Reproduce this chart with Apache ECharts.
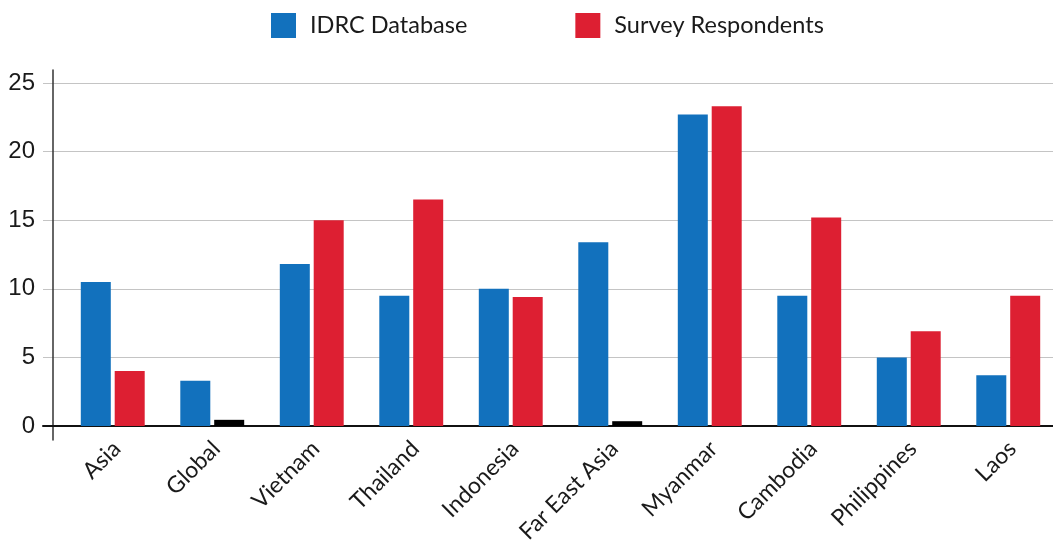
<!DOCTYPE html>
<html>
<head>
<meta charset="utf-8">
<script src="https://cdn.jsdelivr.net/npm/echarts@6/dist/echarts.min.js"></script>
<style>
  html, body { margin: 0; padding: 0; background: #fff; }
  #chart { width: 1053px; height: 543px; }
</style>
</head>
<body>
<div id="chart"></div>
<script>
// Regions shown along the category axis
const categories = ['Asia', 'Global', 'Vietnam', 'Thailand', 'Indonesia', 'Far East Asia', 'Myanmar', 'Cambodia', 'Philippines', 'Laos'];
// Share (%) per region for each source
const idrcDatabase = [10.5, 3.3, 11.8, 9.5, 10.0, 13.4, 22.7, 9.5, 5.0, 3.7];
const surveyRespondents = [4.0, 0.45, 15.0, 16.5, 9.4, 0.35, 23.3, 15.2, 6.9, 9.5];
// Regions whose survey bar is drawn in black
const blackSurveyRegions = ['Global', 'Far East Asia'];
const yTicks = [0, 5, 10, 15, 20, 25];

const BLUE = '#1271bd';
const RED = '#dd1f32';
const LABEL_FONT = 'Lato, "Open Sans", sans-serif';

const surveyData = surveyRespondents.map((v, i) =>
  blackSurveyRegions.includes(categories[i]) ? { value: v, itemStyle: { color: '#000' } } : v
);

const chart = echarts.init(document.getElementById('chart'));
chart.setOption({
  animation: false,
  backgroundColor: '#fff',
  legend: {
    top: 13,
    left: 271,
    padding: 0,
    itemWidth: 25,
    itemHeight: 25,
    itemGap: 108,
    icon: 'rect',
    textStyle: { fontFamily: LABEL_FONT, fontSize: 23.5, color: '#1a1a1a', padding: [4, 0, 0, 9] },
    data: ['IDRC Database', 'Survey Respondents']
  },
  grid: [
    // bars
    { left: 63, width: 995, top: 83, bottom: 117, outerBoundsMode: 'none' },
    // gridlines, tick labels and baseline
    { left: 43, right: 0, top: 83, bottom: 117, outerBoundsMode: 'none' },
    // vertical axis rule
    { left: 53, right: 0, top: 70, bottom: 103, outerBoundsMode: 'none' },
    // category labels
    { left: 67, width: 995, top: 83, bottom: 117, outerBoundsMode: 'none' }
  ],
  xAxis: [
    {
      gridIndex: 0,
      type: 'category',
      data: categories,
      axisLine: { show: false },
      axisTick: { show: false },
      axisLabel: { show: false }
    },
    {
      gridIndex: 1,
      type: 'value',
      min: 0, max: 1,
      axisLine: { show: true, onZero: false, lineStyle: { color: '#111', width: 2 } },
      axisTick: { show: false },
      axisLabel: { show: false },
      splitLine: { show: false }
    },
    {
      gridIndex: 2,
      type: 'value',
      min: 0, max: 1,
      show: false
    },
    {
      gridIndex: 3,
      type: 'category',
      data: categories,
      axisLine: { show: false },
      axisTick: { show: false },
      axisLabel: {
        rotate: 45,
        margin: 19,
        fontFamily: LABEL_FONT,
        fontSize: 23,
        color: '#1a1a1a',
        interval: 0
      }
    }
  ],
  yAxis: [
    {
      gridIndex: 0,
      type: 'value',
      min: 0, max: 25, interval: 5,
      show: false
    },
    {
      gridIndex: 1,
      type: 'value',
      min: yTicks[0], max: yTicks[yTicks.length - 1], interval: 5,
      axisLine: { show: false },
      axisTick: { show: false },
      axisLabel: {
        margin: 8,
        fontFamily: '"Liberation Sans", Arial, sans-serif',
        fontSize: 24,
        color: '#1a1a1a'
      },
      splitLine: { show: true, lineStyle: { color: '#c4c4c4', width: 1 } }
    },
    {
      gridIndex: 2,
      type: 'value',
      min: 0, max: 1,
      axisLine: { show: true, lineStyle: { color: '#333', width: 1.5 } },
      axisTick: { show: false },
      axisLabel: { show: false },
      splitLine: { show: false }
    },
    {
      gridIndex: 3,
      type: 'value',
      min: 0, max: 1,
      show: false
    }
  ],
  series: [
    {
      name: 'IDRC Database',
      type: 'bar',
      xAxisIndex: 0, yAxisIndex: 0,
      barWidth: 30,
      barGap: '13%',
      itemStyle: { color: BLUE },
      data: idrcDatabase,
      z: 3
    },
    {
      name: 'Survey Respondents',
      type: 'bar',
      xAxisIndex: 0, yAxisIndex: 0,
      barWidth: 30,
      barGap: '13%',
      itemStyle: { color: RED },
      data: surveyData,
      z: 3
    }
  ]
});
</script>
</body>
</html>
